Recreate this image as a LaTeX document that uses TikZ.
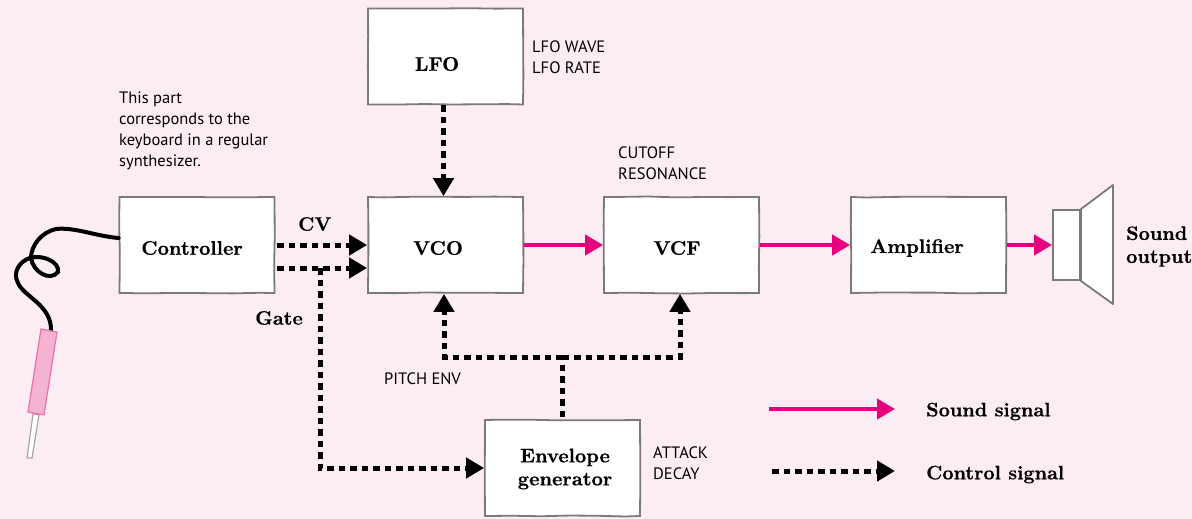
\documentclass[tikz,border=0pt]{standalone}
\usepackage{fontspec}
\newfontfamily\notefont{PT Sans}
\newfontface\headfont{lmroman10-bold.otf}[FakeBold=0.5]
\usetikzlibrary{arrows.meta,decorations.pathmorphing}
\definecolor{pagepink}{HTML}{FCEDF4}
\definecolor{sndpink}{HTML}{E6007E}
\definecolor{boxgrey}{HTML}{7A7A7A}
\definecolor{plugpink}{HTML}{F4B3D0}
\definecolor{plugedge}{HTML}{EE6FAB}
\tikzset{
    block/.style={draw=boxgrey,fill=white,line width=1.8pt,minimum width=155pt,minimum height=96pt,
        inner sep=0pt,decorate,decoration={random steps,segment length=28pt,amplitude=0.5pt}},
    blocktext/.style={align=center,inner sep=0pt,font=\fontsize{19.7}{23}\selectfont\headfont},
    note/.style={anchor=west,align=left,inner sep=0pt,font=\fontsize{16.5}{21}\selectfont\notefont},
    tag/.style={anchor=west,align=left,inner sep=0pt,font=\fontsize{19.5}{23}\selectfont\headfont},
    sound/.style={draw=sndpink,line width=4pt,-{Triangle[length=18pt,width=20pt]}},
    control/.style={draw=black,line width=5pt,dash pattern=on 6.5pt off 5pt,-{Triangle[length=18pt,width=20pt]}},
    branch/.style={draw=black,line width=5pt,dash pattern=on 6.5pt off 5pt},
}
\begin{document}
\begin{tikzpicture}[x=1pt,y=-1pt]
    % Page
    \fill[pagepink] (0,0) rectangle (1192,519);
    \useasboundingbox (0,0) rectangle (1192,519);

    % Blocks
    \node[block] (lfo) at (445.5,56.5) {};
    \node[block] (ctrl) at (197,245) {};
    \node[block] (vco) at (445.5,245) {};
    \node[block] (vcf) at (681.5,245) {};
    \node[block] (amp) at (928.5,245) {};
    \node[block] (env) at (562.5,468) {};

    % Block names
    \node[blocktext] (lfoname) at (437,64) {LFO};
    \node[blocktext] (ctrlname) at (192,248) {Controller};
    \node[blocktext] (vconame) at (438,248) {VCO};
    \node[blocktext] (vcfname) at (677,248) {VCF};
    \node[blocktext] (ampname) at (917,248) {Amplifier};
    \node[blocktext] (envname) at (565,469) {Envelope\\generator};

    % Loudspeaker
    \node[draw=boxgrey,fill=white,line width=1.8pt,minimum width=27pt,minimum height=70pt,inner sep=0pt] (spk) at (1066.5,245) {};
    \draw[boxgrey,fill=white,line width=1.8pt,line join=round] (spk.north east) -- (1113,185) -- (1113,304) -- (spk.south east) -- cycle;

    % Sound path
    \draw[sound] (vco) -- (vcf);
    \draw[sound] (vcf) -- (amp);
    \draw[sound] (amp) -- (spk);

    % Control path
    \draw[control] ([xshift=-2pt]lfo.south) -- ([xshift=-2pt]vco.north);
    \draw[control] ([xshift=2pt]ctrl.east) -- (vco.west);
    \draw[control] ([xshift=2pt,yshift=-23pt]ctrl.east) -- ([yshift=-23pt]vco.west);
    \coordinate (gate) at (320,268);
    \draw[control] (gate) -- (gate |- env.west) -- (env.west);
    \coordinate (split) at (env.north |- 0,357);
    \draw[branch] ([yshift=2pt]env.north) -- (split);
    \draw[control] (split) -| ([xshift=-1.5pt]vco.south);
    \draw[control] (split) -| ([xshift=-1.5pt]vcf.south);

    % Cable and plug
    \draw[line width=4pt,line cap=round] (ctrl.west |- 0,238)
        .. controls (95,236) and (75,227) .. (56,229)
        .. controls (42,232) and (31,245) .. (31,258)
        .. controls (33,272) and (50,282) .. (58,272)
        .. controls (60,262) and (42,254) .. (30,258)
        .. controls (20,261) and (12,272) .. (18,283)
        .. controls (24,297) and (52,305) .. (51,331);
    \draw[draw=gray!70,fill=white,line width=1.2pt] (33,414) -- (39,415) -- (32,458) -- (27,458) -- cycle;
    \draw[draw=plugedge,fill=plugpink,line width=1.2pt] (41,329) -- (57,332) -- (44,415) -- (28,412) -- cycle;

    % Labels
    \node[note] (hint) at (119,130.5) {This part\\corresponds to the\\keyboard in a regular\\synthesizer.};
    \node[note] (lfonote) at (532,57.5) {LFO WAVE\\LFO RATE};
    \node[note] (vcfnote) at (618,163.5) {CUTOFF\\RESONANCE};
    \node[note] (vconote) at (384,379) {PITCH ENV};
    \node[note] (envnote) at (653,463.5) {ATTACK\\DECAY};
    \node[tag] (cv) at (298,224) {CV};
    \node[tag] (gatetag) at (255,318) {Gate};
    \node[tag] (out) at (1126,246.5) {Sound\\output};

    % Legend
    \coordinate (snda) at (769,409);
    \coordinate (sndb) at (895,409);
    \coordinate (ctla) at (772,471);
    \coordinate (ctlb) at (895,471);
    \draw[sound] (snda) -- (sndb);
    \draw[control] (ctla) -- (ctlb);
    \node[tag] (sndtag) at (926,411.5) {Sound signal};
    \node[tag] (ctltag) at (926,474.5) {Control signal};
\end{tikzpicture}
\end{document}
